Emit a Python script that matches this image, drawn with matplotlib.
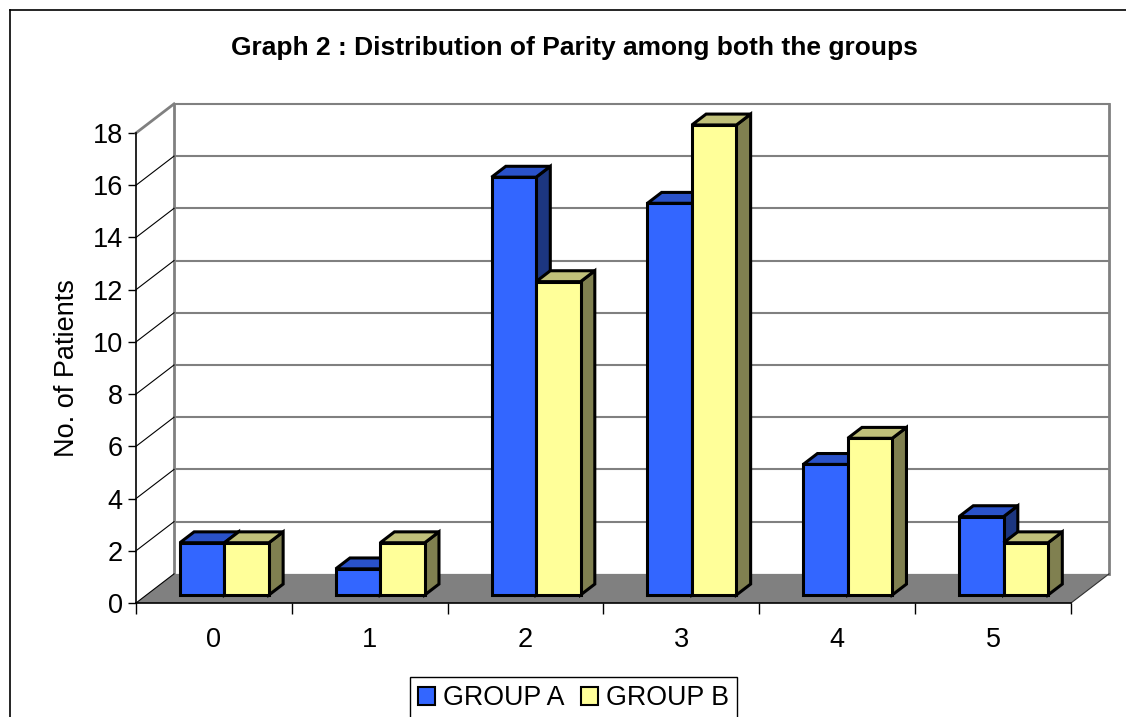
import matplotlib
matplotlib.use("Agg")
import matplotlib.pyplot as plt
from matplotlib.patches import Polygon, Patch
from matplotlib.lines import Line2D

plt.rcParams['font.family'] = ['Liberation Sans', 'DejaVu Sans']

# parity counts per group
parity = ['0', '1', '2', '3', '4', '5']
group_a = [2, 1, 16, 15, 5, 3]
group_b = [2, 2, 12, 18, 6, 2]
y_ticks = list(range(0, 19, 2))

colors_a = ('#3366FF', '#2A52C9', '#1C3680')   # front, top, side
colors_b = ('#FFFF99', '#C0C07A', '#808050')

# oblique "3D" look: depth d in [0, 1] pushes a point up and to the right
DX, DY = 0.244, 1.115
D0, D1 = 0.276, 0.65      # bar front / back depth
BAR_W = 0.2856
FS = 19.5


def proj(x, y, d):
    return (x + d * DX, y + d * DY)


fig = plt.figure(figsize=(11.26, 7.17), dpi=100)
ax = fig.add_axes([136 / 1126, 114 / 717, 935 / 1126, 470 / 717])
ax.set_xlim(-0.5, len(parity) - 0.5)
ax.set_ylim(0, max(y_ticks))
ax.patch.set_alpha(0)

xl, xr = -0.5, len(parity) - 0.5
ymax = max(y_ticks)
grey = '#808080'

# floor
ax.add_patch(Polygon([proj(xl, 0, 0), proj(xr, 0, 0), proj(xr, 0, 1), proj(xl, 0, 1)],
                     closed=True, fc=grey, ec='none', zorder=1, clip_on=False))

# back wall gridlines and frame
for v in y_ticks[1:]:
    (x0, y0), (x1, y1) = proj(xl, v, 1), proj(xr, v, 1)
    ax.plot([x0, x1], [y0, y1], color=grey, lw=1.5, zorder=0.5, clip_on=False)
for a, b in [((xl, 0), (xl, ymax)), ((xr, 0), (xr, ymax))]:
    (x0, y0), (x1, y1) = proj(*a, 1), proj(*b, 1)
    ax.plot([x0, x1], [y0, y1], color=grey, lw=2, zorder=0.6, clip_on=False)

# side wall diagonals from the value axis to the back wall
for v in y_ticks:
    (x0, y0), (x1, y1) = proj(xl, v, 0), proj(xl, v, 1)
    top = v == ymax
    ax.plot([x0, x1], [y0, y1], color=grey if top else 'black',
            lw=2 if top else 0.8, zorder=2, clip_on=False)
(x0, y0), (x1, y1) = proj(xr, 0, 0), proj(xr, 0, 1)
ax.plot([x0, x1], [y0, y1], color='#303030', lw=0.8, zorder=2, clip_on=False)


def draw_bar(x0, x1, h, cols, z):
    front, top, side = cols
    faces = [
        ([proj(x1, 0, D0), proj(x1, 0, D1), proj(x1, h, D1), proj(x1, h, D0)], side),
        ([proj(x0, h, D0), proj(x1, h, D0), proj(x1, h, D1), proj(x0, h, D1)], top),
        ([proj(x0, 0, D0), proj(x1, 0, D0), proj(x1, h, D0), proj(x0, h, D0)], front),
    ]
    for pts, fc in faces:
        ax.add_patch(Polygon(pts, closed=True, fc=fc, ec='black', lw=2.2,
                             joinstyle='miter', zorder=z, clip_on=False))


z = 3
for i in range(len(parity)):
    draw_bar(i - BAR_W, i, group_a[i], colors_a, z)
    draw_bar(i, i + BAR_W, group_b[i], colors_b, z + 0.1)
    z += 0.2

# axes
for s in ['top', 'right']:
    ax.spines[s].set_visible(False)
for s in ['left', 'bottom']:
    ax.spines[s].set_color('black')
    ax.spines[s].set_linewidth(1.2)
    ax.spines[s].set_zorder(10)

ax.set_yticks(y_ticks)
ax.tick_params(axis='y', length=6, width=1, pad=3.5, labelsize=FS, colors='black')
ax.set_xticks(range(len(parity)))
ax.set_xticklabels(parity)
ax.set_xticks([i - 0.5 for i in range(len(parity) + 1)], minor=True)
ax.tick_params(axis='x', which='major', length=0, pad=17, labelsize=FS)
ax.tick_params(axis='x', which='minor', length=8, width=1, color='black')

ax.set_ylabel('No. of Patients', fontsize=FS, labelpad=9)

fig.text(574 / 1126, 1 - 48 / 717, 'Graph 2 : Distribution of Parity among both the groups',
         ha='center', va='center', fontsize=19, fontweight='bold')

handles = [Patch(fc=colors_a[0], ec='black', lw=1.5, label='GROUP A'),
           Patch(fc=colors_b[0], ec='black', lw=1.5, label='GROUP B')]
leg = fig.legend(handles=handles, loc='upper center', bbox_to_anchor=(573.5 / 1126, 1 - 677 / 717),
                 ncol=2, fontsize=19.3, frameon=True, fancybox=False, edgecolor='black',
                 framealpha=1, handlelength=0.65, handleheight=0.65, handletextpad=0.3,
                 columnspacing=0.6, borderpad=0.3, borderaxespad=0)
leg.get_frame().set_linewidth(1)

# chart border (left and top edges)
fig.add_artist(Line2D([10 / 1126, 10 / 1126], [0, 1 - 10 / 717], transform=fig.transFigure,
                      color='black', lw=1.2))
fig.add_artist(Line2D([10 / 1126, 1], [1 - 10 / 717, 1 - 10 / 717], transform=fig.transFigure,
                      color='black', lw=1.2))

fig.savefig('out.png', dpi=100)
